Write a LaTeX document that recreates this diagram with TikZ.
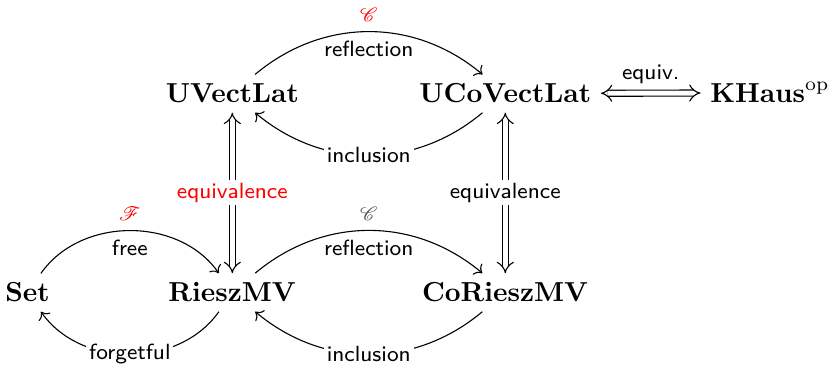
\documentclass[tikz,border=0pt]{standalone}
\usepackage{amsmath}
\usepackage{mathrsfs}
\usetikzlibrary{positioning, arrows.meta}
\definecolor{eqred}{HTML}{FF0000}
\definecolor{fgray}{HTML}{555555}

\begin{document}
\begin{tikzpicture}[cat/.style={anchor=base},
    lbl/.style={font=\footnotesize\sffamily},
    onlbl/.style={lbl, fill=white, inner sep=1pt},
    arr/.style={->},
    eqv/.style={double, double distance=1.8pt, {Implies}-{Implies}}]
  \useasboundingbox (0,0) rectangle (10.65,4.654);
  \node[cat] (uvl) at (2.97,3.337) {$\mathbf{UVectLat}$};
  \node[cat] (ucvl) at (6.46,3.337) {$\mathbf{UCoVectLat}$};
  \node[cat] (kh) at (9.844,3.337) {$\mathbf{KHaus}^{\mathrm{op}}$};
  \node[cat] (set) at (0.352,0.793) {$\mathbf{Set}$};
  \node[cat] (rmv) at (2.97,0.793) {$\mathbf{RieszMV}$};
  \node[cat] (crmv) at (6.46,0.793) {$\mathbf{CoRieszMV}$};
  \draw[arr] (uvl) to[bend left=40] node[lbl, below] {reflection}
    node[above, text=eqred] {$\scriptstyle\mathscr{C}$} (ucvl);
  \draw[arr] (ucvl) to[bend left=40] node[onlbl] {inclusion} (uvl);
  \draw[eqv] (ucvl) -- node[lbl, above] {equiv.} (kh);
  \draw[eqv] (uvl) -- node[onlbl, text=eqred] {equivalence} (rmv);
  \draw[eqv] (ucvl) -- node[onlbl] {equivalence} (crmv);
  \draw[arr] (set) to[bend left=55] node[lbl, below] {free}
    node[above, text=eqred] {$\scriptstyle\mathscr{F}$} (rmv);
  \draw[arr] (rmv) to[bend left=55] node[onlbl] {forgetful} (set);
  \draw[arr] (rmv) to[bend left=40] node[lbl, below] {reflection}
    node[above, text=fgray] {$\scriptstyle\mathscr{C}$} (crmv);
  \draw[arr] (crmv) to[bend left=40] node[onlbl] {inclusion} (rmv);
\end{tikzpicture}
\end{document}
